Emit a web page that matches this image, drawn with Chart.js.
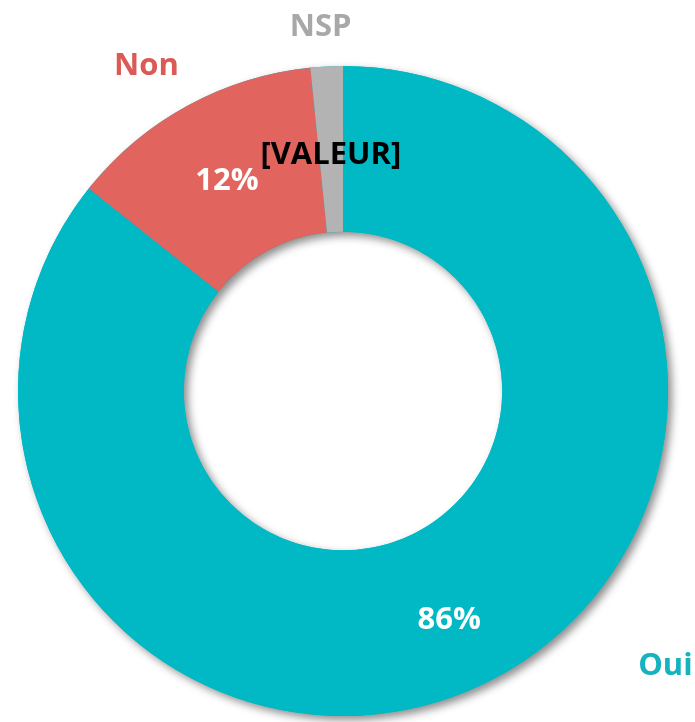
<!DOCTYPE html>
<html>
<head>
<meta charset="utf-8">
<script src="https://cdn.jsdelivr.net/npm/chart.js@4/dist/chart.umd.min.js"></script>
<style>
html,body{margin:0;padding:0;background:#fff;}
#wrap{width:695px;height:722px;}
</style>
</head>
<body>
<div id="wrap"><canvas id="c" width="695" height="722"></canvas></div>
<script>
const categories = ["Oui", "Non", "NSP"];
const values = [85.7, 12.7, 1.6];
const valueLabels = ["86%", "12%", "[VALEUR]"];
const sliceColors = ["#00B9C5", "#E1645E", "#B3B3B3"];
const categoryColors = ["#16B3BE", "#DC5A55", "#A8A8A8"];
const valueLabelColors = ["#FFFFFF", "#FFFFFF", "#000000"];

const FONT = "bold 31px 'Open Sans', sans-serif";

const shadowPlugin = {
  id: 'ringShadow',
  beforeDatasetsDraw(chart) {
    const meta = chart.getDatasetMeta(0);
    const a = meta.data[0];
    if (!a) return;
    const {x, y, outerRadius, innerRadius} = a.getProps(['x','y','outerRadius','innerRadius'], true);
    const ctx = chart.ctx;
    ctx.save();
    ctx.shadowColor = 'rgba(0,0,0,0.45)';
    ctx.shadowBlur = 8;
    ctx.shadowOffsetX = 4;
    ctx.shadowOffsetY = 4;
    ctx.beginPath();
    ctx.arc(x, y, outerRadius, 0, Math.PI * 2);
    ctx.arc(x, y, innerRadius, 0, Math.PI * 2, true);
    ctx.closePath();
    ctx.fillStyle = sliceColors[0];
    ctx.fill();
    ctx.restore();
  }
};

// label offsets relative to the ring centre, expressed in units of outer radius
const catLabelPos = [[0.992, 0.848], [-0.605, -0.998], [-0.069, -1.121]];
const valueLabelShift = [[1, 11], [0, 3], [0, 6]];

const labelPlugin = {
  id: 'labels',
  afterDatasetsDraw(chart) {
    const meta = chart.getDatasetMeta(0);
    const ctx = chart.ctx;
    ctx.save();
    ctx.font = FONT;
    ctx.textAlign = 'center';
    ctx.textBaseline = 'middle';
    meta.data.forEach((arc, i) => {
      const p = arc.tooltipPosition(true);
      ctx.fillStyle = valueLabelColors[i];
      ctx.fillText(valueLabels[i], p.x + valueLabelShift[i][0], p.y + valueLabelShift[i][1]);
      const {x, y, outerRadius} = arc.getProps(['x','y','outerRadius'], true);
      ctx.fillStyle = categoryColors[i];
      ctx.fillText(categories[i], x + catLabelPos[i][0] * outerRadius, y + catLabelPos[i][1] * outerRadius);
    });
    ctx.restore();
  }
};

new Chart(document.getElementById('c'), {
  type: 'doughnut',
  data: {
    labels: categories,
    datasets: [{
      data: values,
      backgroundColor: sliceColors,
      borderWidth: 0,
      hoverOffset: 0
    }]
  },
  options: {
    responsive: false,
    animation: false,
    cutout: '49%',
    rotation: 0,
    layout: {padding: {top: 66, bottom: 6, left: 18, right: 27}},
    plugins: {legend: {display: false}, tooltip: {enabled: false}}
  },
  plugins: [shadowPlugin, labelPlugin]
});
</script>
</body>
</html>
